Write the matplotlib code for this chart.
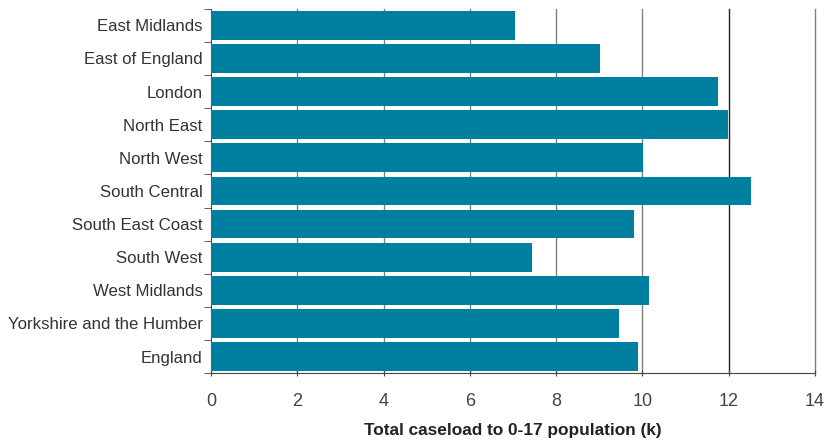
import matplotlib
matplotlib.use('Agg')
from matplotlib import pyplot as plt
import numpy as np

regions = ['East Midlands', 'East of England', 'London', 'North East', 'North West',
           'South Central', 'South East Coast', 'South West', 'West Midlands',
           'Yorkshire and the Humber', 'England']
values = [7.05, 9.02, 11.75, 11.98, 10.01, 12.52, 9.8, 7.44, 10.15, 9.46, 9.9]
xticks = [0, 2, 4, 6, 8, 10, 12, 14]

plt.rcParams['font.family'] = ['Liberation Sans', 'DejaVu Sans']

fig = plt.figure(figsize=(8.24, 4.41), dpi=100)
ax = fig.add_axes([0.256, 0.154, 0.733, 0.826])

y = np.arange(len(regions))
ax.barh(y, values, height=0.87, color='#0080a0', zorder=3)

ax.set_ylim(len(regions) - 0.5, -0.5)
ax.set_xlim(0, 14)
ax.set_xticks(xticks)
ax.set_xticklabels([str(t) for t in xticks], fontsize=13, color='#444444')
ax.set_yticks(y)
ax.set_yticklabels(regions, fontsize=12.1, color='#333333')
ax.tick_params(axis='y', length=0, pad=6)
# ticks at category boundaries
ax.set_yticks(np.arange(-0.5, len(regions) + 0.5, 1), minor=True)
ax.tick_params(axis='y', which='minor', length=5, color='#444444', direction='out')
ax.tick_params(axis='x', length=5, color='#444444', direction='inout', pad=12)

for t in xticks[1:]:
    c = '#222222' if t == 12 else '#808080'
    ax.axvline(t, color=c, lw=1, zorder=1, clip_on=False)

for s in ['top', 'right']:
    ax.spines[s].set_visible(False)
ax.spines['left'].set_color('#444444')
ax.spines['bottom'].set_color('#444444')

ax.set_xlabel('Total caseload to 0-17 population (k)', fontsize=12.4, fontweight='bold',
              color='#222222', labelpad=9)

fig.savefig('out.png', dpi=100)
